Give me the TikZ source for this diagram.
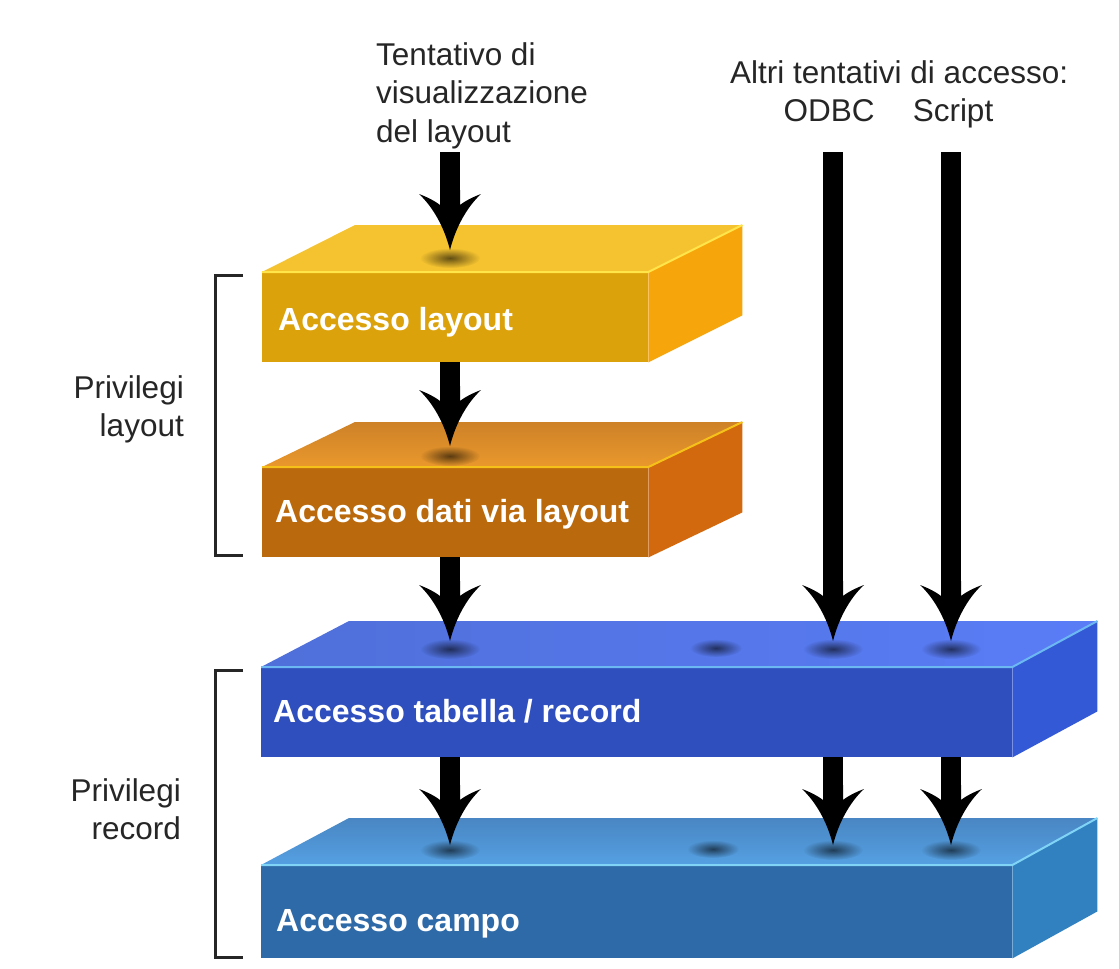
\documentclass[tikz,border=0pt]{standalone}
\usepackage{fontspec}
\setmainfont{Liberation Sans}
\usetikzlibrary{calc,fadings}
\definecolor{bafront}{HTML}{DCA20C}
\definecolor{batop}{HTML}{F5C330}
\definecolor{baside}{HTML}{F6A50B}
\definecolor{bahl}{HTML}{FFE44A}
\definecolor{bbfront}{HTML}{BA690C}
\definecolor{bbtopA}{HTML}{CE8228}
\definecolor{bbtopB}{HTML}{E9982C}
\definecolor{bbside}{HTML}{D2690F}
\definecolor{bbhl}{HTML}{F6C21A}
\definecolor{bcfront}{HTML}{2F4FBF}
\definecolor{bctopA}{HTML}{4F6FD9}
\definecolor{bctopB}{HTML}{5A7DF7}
\definecolor{bcside}{HTML}{3359D6}
\definecolor{bchl}{HTML}{6CB8F2}
\definecolor{bdfront}{HTML}{2F6AA8}
\definecolor{bdtopA}{HTML}{4986C3}
\definecolor{bdtopB}{HTML}{55A0E2}
\definecolor{bdside}{HTML}{3181C1}
\definecolor{bdhl}{HTML}{80D4F6}
\tikzfading[name=spotfade, inner color=transparent!15, outer color=transparent!100]
\begin{document}
\begin{tikzpicture}[x=1pt,y=-1pt,
  face/.style={draw=none, inner sep=0pt, anchor=north west},
  boxlabel/.style={text=white, font=\fontsize{32}{38}\selectfont\bfseries, anchor=base west, inner sep=0pt},
  lighttext/.style={font=\fontsize{31.5}{38.5}\selectfont, inner sep=0pt, text=black!85},
  shaft/.style={line width=20pt, black},
  bracket/.style={line width=3pt, draw=black!85},
  spot/.style={fill=black, opacity=0.7, path fading=spotfade},
  hl/.style={line width=2pt},
  barb/.pic={
    \fill[black] (0,0) .. controls (-6,-24) and (-18,-44) .. (-31,-56)
      .. controls (-23,-53) and (-15,-49) .. (-10,-45) -- (-10,-60) -- (10,-60) -- (10,-45)
      .. controls (15,-49) and (23,-53) .. (31,-56)
      .. controls (18,-44) and (6,-24) .. (0,0) -- cycle;
  }]
\useasboundingbox (0,0) rectangle (1119,969);
\fill[white] (0,0) rectangle (1119,969);

% ---- box 1: Accesso layout
\node[face, fill=bafront, minimum width=386pt, minimum height=90pt] (b1) at (262,272) {};
\fill[batop] (b1.north west) -- ++(93,-47) -- ($(b1.north east)+(94,-47)$) -- (b1.north east) -- cycle;
\fill[baside] (b1.north east) -- ++(94,-47) -- ($(b1.south east)+(94,-47)$) -- (b1.south east) -- cycle;
\draw[bahl, hl] (b1.north west) -- (b1.north east) -- ++(94,-47);
\node[boxlabel] (l1) at (278,330) {Accesso layout};

% ---- box 2: Accesso dati via layout
\node[face, fill=bbfront, minimum width=386pt, minimum height=90pt] (b2) at (262,467) {};
\shade[top color=bbtopA, bottom color=bbtopB] (b2.north west) -- ++(93,-45) -- ($(b2.north east)+(94,-45)$) -- (b2.north east) -- cycle;
\fill[bbside] (b2.north east) -- ++(94,-45) -- ($(b2.south east)+(94,-45)$) -- (b2.south east) -- cycle;
\draw[bbhl, hl] (b2.north west) -- (b2.north east) -- ++(94,-45);
\node[boxlabel] (l2) at (275,522) {Accesso dati via layout};

% ---- box 3: Accesso tabella / record
\node[face, fill=bcfront, minimum width=751pt, minimum height=90pt] (b3) at (261,667) {};
\shade[left color=bctopA, right color=bctopB] (b3.north west) -- ++(88,-46) -- ($(b3.north east)+(85,-46)$) -- (b3.north east) -- cycle;
\fill[bcside] (b3.north east) -- ++(85,-46) -- ($(b3.south east)+(85,-46)$) -- (b3.south east) -- cycle;
\draw[bchl, hl] (b3.north west) -- (b3.north east) -- ++(85,-46);
\node[boxlabel] (l3) at (273,722) {Accesso tabella / record};

% ---- box 4: Accesso campo
\node[face, fill=bdfront, minimum width=751pt, minimum height=93pt] (b4) at (261,865) {};
\shade[top color=bdtopA, bottom color=bdtopB] (b4.north west) -- ++(88,-47) -- ($(b4.north east)+(85,-47)$) -- (b4.north east) -- cycle;
\fill[bdside] (b4.north east) -- ++(85,-47) -- ($(b4.south east)+(85,-47)$) -- (b4.south east) -- cycle;
\draw[bdhl, hl] (b4.north west) -- (b4.north east) -- ++(85,-47);
\node[boxlabel] (l4) at (276,931) {Accesso campo};

% ---- shadow spots
\fill[spot] (450,258) ellipse (30 and 10);
\fill[spot] (450,456) ellipse (30 and 10);
\fill[spot] (450,649) ellipse (30 and 10);
\fill[spot] (716,648) ellipse (26 and 9);
\fill[spot] (833,649) ellipse (30 and 10);
\fill[spot] (951,649) ellipse (30 and 10);
\fill[spot] (450,850) ellipse (30 and 10);
\fill[spot] (713,849) ellipse (26 and 9);
\fill[spot] (833,850) ellipse (30 and 10);
\fill[spot] (951,850) ellipse (30 and 10);

% ---- texts
\node[lighttext, align=left, anchor=north west] (tent) at (376,42) {Tentativo di\\visualizzazione\\del layout};
\node[lighttext, anchor=base west] (altri) at (730,83) {Altri tentativi di accesso:};
\node[lighttext, anchor=base] (odbc) at (829,121) {ODBC};
\node[lighttext, anchor=base] (script) at (953,121) {Script};
\node[lighttext, align=right, anchor=north east] (pl) at (184,375) {Privilegi\\layout};
\node[lighttext, align=right, anchor=north east] (pr) at (181,778) {Privilegi\\record};

% ---- arrow end points
\coordinate (s1) at (450,152);
\coordinate (t1) at (450,250);
\coordinate (t2) at (450,446);
\coordinate (t3) at (450,641);
\coordinate (sO) at (833,152);
\coordinate (tO) at (833,641);
\coordinate (sS) at (951,152);
\coordinate (tS) at (951,641);
\coordinate (t4) at (450,845);
\coordinate (t4O) at (833,845);
\coordinate (t4S) at (951,845);

% ---- arrows
\draw[shaft] (s1) -- ([yshift=45pt]t1);   \pic at (t1) {barb};
\draw[shaft] (b1.south -| t2) -- ([yshift=45pt]t2); \pic at (t2) {barb};
\draw[shaft] (b2.south -| t3) -- ([yshift=45pt]t3); \pic at (t3) {barb};
\draw[shaft] (sO) -- ([yshift=45pt]tO); \pic at (tO) {barb};
\draw[shaft] (sS) -- ([yshift=45pt]tS); \pic at (tS) {barb};
\draw[shaft] (b3.south -| t4) -- ([yshift=45pt]t4); \pic at (t4) {barb};
\draw[shaft] (b3.south -| t4O) -- ([yshift=45pt]t4O); \pic at (t4O) {barb};
\draw[shaft] (b3.south -| t4S) -- ([yshift=45pt]t4S); \pic at (t4S) {barb};

% ---- brackets
\draw[bracket] (243,275) -- (215,275) -- (215,555) -- (243,555);
\draw[bracket] (243,670) -- (215,670) -- (215,957) -- (243,957);
\end{tikzpicture}
\end{document}
